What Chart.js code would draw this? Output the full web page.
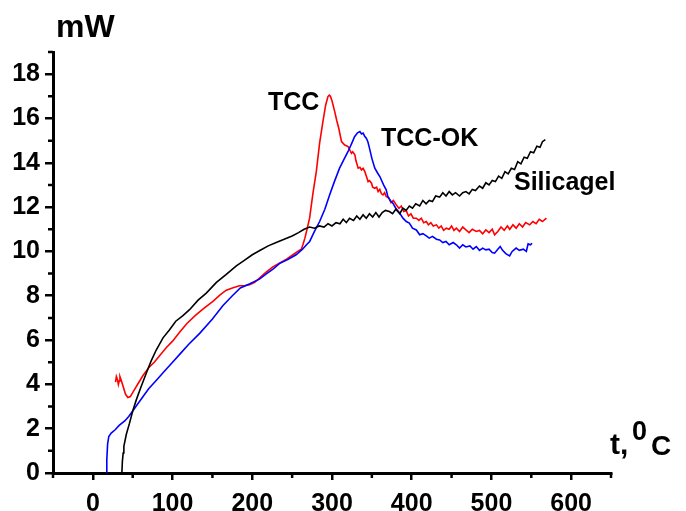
<!DOCTYPE html>
<html>
<head>
<meta charset="utf-8">
<script src="https://cdn.jsdelivr.net/npm/chart.js@4"></script>
<style>
  body { margin: 0; background: #fff; }
  canvas { display: block; }
</style>
</head>
<body>
<canvas id="chart" width="686" height="511"></canvas>
<script>
// tick labels
const xTicks = [0, 100, 200, 300, 400, 500, 600];
const yTicks = [0, 2, 4, 6, 8, 10, 12, 14, 16, 18];
const xMinor = [-50, 50, 150, 250, 350, 450, 550, 650];
const yMinor = [1, 3, 5, 7, 9, 11, 13, 15, 17, 19];

// TCC (red)
const tccX = [28.5, 29.5, 31, 32, 33, 34, 35.5, 38, 41, 44, 47, 52, 57, 62.7, 70, 77, 83.7, 92, 100, 108.8, 118, 129.7, 140, 150.6, 160, 167.4, 175, 184, 190, 196.6, 203, 209, 217, 225.8, 234, 243, 251, 257, 261.5, 263.5, 266, 268, 271.9, 276, 280.3, 284.5, 288.6, 292, 294.9, 296.5, 298, 300, 303.4, 306, 308.5, 311.9, 316, 320.2, 322, 324.4, 326, 328.7, 330, 332.8, 335, 337, 339, 341.2, 343, 345.3, 347, 349.6, 351, 353.7, 356, 357.9, 360, 362, 364, 366, 368, 371.6, 374, 377, 380.7, 384, 387, 390, 393, 396, 399, 402, 405.8, 409, 412, 415, 418.3, 421, 424, 427, 431, 434, 437, 440, 443.4, 447, 450, 453, 456, 460, 464, 468, 472, 476, 481, 485, 489, 493, 497, 501, 504, 508, 512, 516, 520, 523, 527, 531, 535, 539, 543, 548, 552, 556, 560, 564, 569];
const tccY = [4.1, 4.35, 4.2, 4.0, 4.15, 4.35, 4.2, 3.9, 3.55, 3.41, 3.45, 3.75, 4.05, 4.39, 4.75, 5.0, 5.29, 5.65, 5.95, 6.35, 6.75, 7.15, 7.45, 7.75, 8.05, 8.25, 8.35, 8.45, 8.45, 8.5, 8.6, 8.8, 9.05, 9.3, 9.47, 9.65, 9.85, 10.0, 10.1, 10.3, 10.6, 10.9, 11.5, 12.6, 13.6, 14.9, 15.86, 16.6, 16.99, 17.05, 17.0, 16.8, 16.31, 15.9, 15.56, 14.96, 14.8, 14.73, 14.6, 14.43, 14.5, 14.36, 14.1, 13.76, 13.8, 13.68, 13.75, 13.6, 13.4, 13.15, 13.2, 13.08, 12.9, 12.85, 12.9, 12.7, 12.8, 12.6, 12.55, 12.65, 12.48, 12.4, 12.2, 12.3, 12.1, 11.95, 12.05, 11.8, 11.85, 11.6, 11.7, 11.5, 11.5, 11.4, 11.5, 11.3, 11.35, 11.2, 11.3, 11.15, 11.2, 11.05, 11.15, 10.95, 11.05, 11.0, 11.15, 10.95, 11.05, 10.9, 11.1, 10.97, 10.85, 11.0, 10.9, 10.95, 10.8, 10.97, 10.85, 11.0, 10.75, 10.9, 11.1, 10.95, 11.15, 11.0, 11.2, 11.05, 11.25, 11.1, 11.3, 11.2, 11.35, 11.25, 11.45, 11.35, 11.5];

// TCC-OK (blue)
const tccOkX = [16.8, 17.5, 18.5, 20, 23, 28, 33, 40, 45, 50, 56, 63, 70, 80, 90, 100, 110, 120, 134, 150, 163, 175, 185, 197, 209, 218, 226, 234, 245, 255, 263, 268, 272, 278, 284.5, 291, 297, 303, 309.5, 315, 320, 325, 328.3, 332, 335, 337, 339, 341, 343, 345, 347, 350, 353.7, 357, 360, 364.7, 368, 370, 373, 376.4, 380, 384.8, 389, 393.2, 397, 401, 405.8, 410, 414, 418.3, 422, 426, 431, 435, 439, 443, 447, 452, 456, 460, 464, 468, 473, 477, 481, 485, 489, 493, 497, 501, 504, 508, 511, 514, 518, 522.8, 526, 531, 535, 540, 543.8, 546, 549, 551];
const tccOkY = [0, 0.6, 1.3, 1.65, 1.8, 1.95, 2.15, 2.35, 2.55, 2.8, 3.1, 3.45, 3.8, 4.2, 4.6, 5.0, 5.4, 5.8, 6.3, 6.95, 7.55, 8.0, 8.35, 8.54, 8.75, 9.0, 9.2, 9.45, 9.65, 9.85, 10.1, 10.3, 10.45, 10.9, 11.35, 11.9, 12.55, 13.15, 13.76, 14.15, 14.5, 14.9, 15.18, 15.35, 15.41, 15.3, 15.34, 15.2, 15.11, 14.95, 14.66, 14.2, 13.76, 13.55, 13.38, 13.0, 12.78, 12.48, 12.3, 12.18, 11.95, 11.73, 11.5, 11.35, 11.28, 11.05, 10.97, 10.75, 10.8, 10.7, 10.6, 10.68, 10.55, 10.52, 10.4, 10.45, 10.3, 10.4, 10.3, 10.15, 10.3, 10.2, 10.25, 10.1, 10.22, 10.05, 10.15, 10.07, 10.1, 9.95, 9.92, 10.1, 10.22, 10.05, 9.9, 9.8, 10.0, 10.15, 10.05, 10.1, 10.0, 10.34, 10.3, 10.37];

// Silicagel (black)
const silX = [36.4, 37, 38, 38.9, 42, 46, 50, 54.5, 60, 67, 73, 79.5, 88, 96, 104, 113, 121.3, 132, 142.3, 155, 167, 180, 190, 200, 210, 220, 230, 240, 250, 258, 265, 272, 278, 284, 290, 295, 300, 305, 310, 314, 318, 322, 327, 331, 335, 339, 343, 347, 351, 355, 359, 363, 367, 372, 376, 380, 385, 389, 393, 397, 401, 405, 410, 414, 418, 422, 426, 430, 435, 439, 443, 447, 451, 455, 460, 464, 468, 472, 476, 480, 485, 489, 493, 497, 501, 505, 509, 513, 517, 521, 525, 529, 533, 537, 541, 545, 549, 553, 557, 561, 564, 567.6];
const silY = [0, 0.5, 0.9, 1.2, 1.75, 2.25, 2.8, 3.3, 3.85, 4.5, 5.05, 5.55, 6.1, 6.45, 6.85, 7.1, 7.37, 7.8, 8.12, 8.6, 8.95, 9.35, 9.6, 9.85, 10.05, 10.25, 10.4, 10.55, 10.7, 10.85, 11.0, 11.1, 11.05, 11.15, 11.1, 11.25, 11.15, 11.3, 11.25, 11.45, 11.3, 11.5, 11.4, 11.6, 11.45, 11.65, 11.5, 11.7, 11.55, 11.75, 11.55, 11.75, 11.85, 11.8, 11.7, 11.9, 11.7, 11.95, 11.85, 12.05, 11.95, 12.15, 12.05, 12.3, 12.15, 12.3, 12.25, 12.5, 12.45, 12.65, 12.5, 12.7, 12.55, 12.65, 12.5, 12.65, 12.7, 12.6, 12.8, 12.75, 12.95, 12.85, 13.1, 13.0, 13.2, 13.15, 13.4, 13.3, 13.6, 13.5, 13.75, 13.7, 14.05, 13.95, 14.25, 14.2, 14.5, 14.45, 14.75, 14.7, 14.95, 15.05];

function pairs(xs, ys) {
    return xs.map((x, i) => ({x: x, y: ys[i]}));
}

const FONT = "'Liberation Sans', Arial, sans-serif";

// minor ticks and the text labels
const extras = {
    id: 'extras',
    afterDraw(c) {
        const ctx = c.ctx;
        const xs = c.scales.x, ys = c.scales.y;
        const area = c.chartArea;
        ctx.save();
        ctx.strokeStyle = '#000';
        ctx.lineWidth = 2.5;
        ctx.beginPath();
        xMinor.forEach(v => {
            const px = xs.getPixelForValue(v);
            ctx.moveTo(px, area.bottom);
            ctx.lineTo(px, area.bottom + 5);
        });
        yMinor.forEach(v => {
            const py = ys.getPixelForValue(v);
            ctx.moveTo(area.left, py);
            ctx.lineTo(area.left - 5, py);
        });
        ctx.stroke();

        ctx.fillStyle = '#000';
        ctx.textBaseline = 'alphabetic';
        ctx.textAlign = 'left';
        ctx.font = 'bold 32px ' + FONT;
        ctx.fillText('mW', 56, 37);
        ctx.font = 'bold 25px ' + FONT;
        ctx.fillText('TCC', 268, 110);
        ctx.fillText('TCC-OK', 381, 146);
        ctx.fillText('Silicagel', 514, 190);
        ctx.font = 'bold 30px ' + FONT;
        ctx.fillText('t,', 610, 454);
        ctx.font = 'bold 27px ' + FONT;
        ctx.fillText('0', 632, 440);
        ctx.font = 'bold 28px ' + FONT;
        ctx.fillText('C', 651, 455);
        ctx.restore();
    }
};

const ctx = document.getElementById("chart");
const chart = new Chart(ctx, {
    type: 'line',
    data: {
        datasets: [
            {label: 'Silicagel', data: pairs(silX, silY), borderColor: '#000000'},
            {label: 'TCC-OK', data: pairs(tccOkX, tccOkY), borderColor: '#0000ff'},
            {label: 'TCC', data: pairs(tccX, tccY), borderColor: '#ff0000'}
        ]
    },
    options: {
        responsive: false,
        animation: false,
        devicePixelRatio: 1,
        layout: { padding: { left: 0, top: 52, right: 75, bottom: 0 } },
        elements: {
            line: { borderWidth: 1.6, tension: 0, fill: false },
            point: { radius: 0 }
        },
        plugins: {
            legend: { display: false },
            tooltip: { enabled: false }
        },
        scales: {
            x: {
                type: 'linear',
                min: -50,
                max: 650,
                afterBuildTicks: s => { s.ticks = xTicks.map(v => ({value: v})); },
                afterFit: s => { s.height = 38; },
                border: { display: true, width: 3, color: '#000' },
                grid: { drawOnChartArea: false, drawTicks: true, tickLength: 7, color: '#000', lineWidth: 2.5 },
                ticks: { color: '#000', padding: 9, maxRotation: 0, font: { family: FONT, size: 25, weight: 'bold' } }
            },
            y: {
                type: 'linear',
                min: 0,
                max: 19,
                afterBuildTicks: s => { s.ticks = yTicks.map(v => ({value: v})); },
                afterFit: s => { s.width = 53; },
                border: { display: true, width: 3, color: '#000' },
                grid: { drawOnChartArea: false, drawTicks: true, tickLength: 8, color: '#000', lineWidth: 2.5 },
                ticks: { color: '#000', padding: 5, font: { family: FONT, size: 25, weight: 'bold' } }
            }
        }
    },
    plugins: [extras]
});
</script>
</body>
</html>
